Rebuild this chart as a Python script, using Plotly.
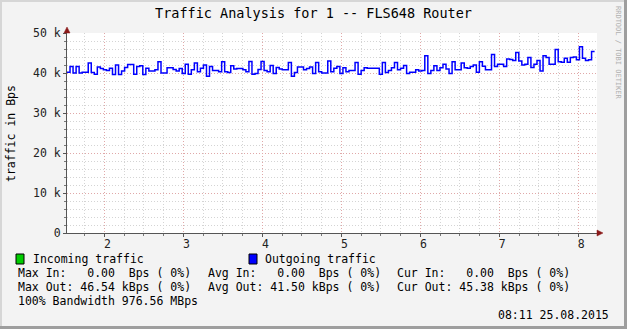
import plotly.graph_objects as go

# ---------------- data ----------------
outgoing_kbps = [
    40.2, 41.6, 40.0, 41.6, 40.0, 40.2, 40.2, 42.5, 40.1, 39.7, 41.5, 41.1, 40.8, 40.6, 41.2,
    39.6, 42.0, 39.6, 40.5, 41.4, 42.1, 42.1, 39.7, 41.6, 41.8, 39.6, 41.2, 40.5, 40.5, 40.8,
    42.8, 40.0, 40.0, 41.3, 41.3, 40.9, 40.5, 41.1, 39.9, 42.2, 39.7, 40.8, 42.5, 40.3, 41.2,
    42.0, 39.2, 41.6, 40.6, 40.6, 40.3, 42.8, 40.3, 40.1, 41.8, 41.0, 41.1, 41.1,
    40.8, 40.3, 42.9, 39.7, 39.9, 40.9, 42.9, 40.6, 40.3, 41.9, 39.9, 41.4, 41.0, 40.8, 40.8,
    42.6, 39.2, 40.1, 41.5, 41.5, 40.8, 41.1, 41.5, 39.9, 42.6, 40.3, 40.0, 40.0, 43.0, 40.3,
    41.2, 41.6, 39.9, 41.3, 40.3, 40.6, 40.6, 42.6, 39.7, 40.6, 41.3, 41.2, 41.2, 41.2, 41.2,
    39.7, 42.6, 40.1, 40.6, 41.3, 42.6, 40.8, 41.2, 41.9, 39.9, 40.2, 40.2, 40.8, 40.5,
    40.6, 44.3, 39.9, 40.6, 41.8, 40.6, 41.3, 42.2, 41.0, 39.9, 42.8, 40.8, 40.8, 42.5, 41.3,
    41.2, 41.6, 42.0, 40.2, 42.8, 41.7, 40.8, 40.8, 44.6, 41.6, 42.2, 42.2, 41.6, 43.5,
    43.4, 43.1, 45.1, 43.0, 42.0, 42.2, 43.9, 41.4, 42.2, 43.1, 40.5, 44.3, 43.9, 42.2, 42.2,
    45.9, 42.8, 42.7, 43.7, 42.7, 43.9, 44.0, 43.3, 46.54, 43.7, 43.1, 43.3, 45.38,
]
t_start = 1.525
t_step = 0.0384

x_tick_vals = [2, 3, 4, 5, 6, 7, 8]
x_tick_text = ["2", "3", "4", "5", "6", "7", "8"]
y_tick_vals = [0, 10000, 20000, 30000, 40000, 50000]
y_tick_text = ["0", "10 k", "20 k", "30 k", "40 k", "50 k"]

title_text = "Traffic Analysis for 1 -- FLS648 Router"
y_title = "traffic in Bps"
legend_labels = ["Incoming traffic", "Outgoing traffic"]
legend_colors = ["#00CC00", "#0000FF"]
stats_in = ["Max In:   0.00  Bps ( 0%)", "Avg In:   0.00  Bps ( 0%)", "Cur In:   0.00  Bps ( 0%)"]
stats_out = ["Max Out: 46.54 kBps ( 0%)", "Avg Out: 41.50 kBps ( 0%)", "Cur Out: 45.38 kBps ( 0%)"]
bandwidth_text = "100% Bandwidth 976.56 MBps"
date_text = "08:11 25.08.2015"
watermark = "RRDTOOL / TOBI OETIKER"

# ---------------- figure ----------------
FW, FH = 627, 329
L, R, T, B = 67, 30, 33, 96
W = FW - L - R
H = FH - T - B
MONO = "DejaVu Sans Mono"
FS = 11.5


def px(xp):
    return (xp - L) / W


def py(yp):
    return (FH - B - yp) / H


def nb(s):
    return s.replace(" ", "\u00a0")


n = len(outgoing_kbps)
xs = [t_start + i * t_step for i in range(n + 1)]
ys = [v * 1000 for v in outgoing_kbps] + [outgoing_kbps[-1] * 1000]

fig = go.Figure()
fig.add_trace(go.Scatter(x=xs, y=ys, mode="lines",
                         line=dict(color="#0000FF", width=1.5, shape="hv"),
                         showlegend=False, hoverinfo="skip"))

dots = "1px,2px"
fig.update_layout(
    width=FW, height=FH,
    margin=dict(l=L, r=R, t=T, b=B),
    paper_bgcolor="#F3F3F3",
    plot_bgcolor="#FFFFFF",
    font=dict(family=MONO, size=FS, color="#000000"),
    showlegend=False,
    xaxis=dict(
        range=[t_start, 8.237], tickvals=x_tick_vals, ticktext=x_tick_text,
        showgrid=True, gridcolor="#E0A8A8", griddash=dots, gridwidth=1,
        showline=True, linecolor="#555555", linewidth=1,
        ticks="outside", ticklen=3, tickcolor="#555555",
        zeroline=False, tickfont=dict(family=MONO, size=FS, color="#222222"),
        ticklabelshift=3, ticklabelstandoff=-3,
        minor=dict(dtick=0.25, showgrid=True, gridcolor="#D4D4D4", griddash=dots,
                   ticks="outside", ticklen=2, tickcolor="#777777"),
    ),
    yaxis=dict(
        range=[0, 50000], tickvals=y_tick_vals, ticktext=y_tick_text,
        showgrid=True, gridcolor="#E0A8A8", griddash=dots, gridwidth=1,
        showline=True, linecolor="#555555", linewidth=1,
        ticks="outside", ticklen=3, tickcolor="#555555",
        zeroline=False, tickfont=dict(family=MONO, size=FS, color="#222222"),
        minor=dict(dtick=2000, showgrid=True, gridcolor="#D4D4D4", griddash=dots,
                   ticks="outside", ticklen=2, tickcolor="#777777"),
    ),
)

shapes = []
# bevel border
shapes.append(dict(type="rect", xref="paper", yref="paper", x0=px(0), x1=px(FW), y0=py(0), y1=py(2),
                   fillcolor="#D6D6D6", line=dict(width=0), layer="below"))
shapes.append(dict(type="rect", xref="paper", yref="paper", x0=px(0), x1=px(2), y0=py(0), y1=py(FH),
                   fillcolor="#D6D6D6", line=dict(width=0), layer="below"))
shapes.append(dict(type="rect", xref="paper", yref="paper", x0=px(FW - 3), x1=px(FW), y0=py(0), y1=py(FH),
                   fillcolor="#9E9E9E", line=dict(width=0), layer="below"))
shapes.append(dict(type="rect", xref="paper", yref="paper", x0=px(0), x1=px(FW), y0=py(FH - 3), y1=py(FH),
                   fillcolor="#9E9E9E", line=dict(width=0), layer="below"))
# axis arrows
ax_x, ax_y = L, FH - B
shapes.append(dict(type="path", xref="paper", yref="paper",
                   path=f"M {px(ax_x - 3)},{py(T)} L {px(ax_x + 3)},{py(T)} L {px(ax_x)},{py(T - 6)} Z",
                   fillcolor="#8B1A1A", line=dict(color="#8B1A1A", width=0.5)))
shapes.append(dict(type="path", xref="paper", yref="paper",
                   path=f"M {px(L + W)},{py(ax_y - 3)} L {px(L + W)},{py(ax_y + 3)} L {px(L + W + 6)},{py(ax_y)} Z",
                   fillcolor="#8B1A1A", line=dict(color="#8B1A1A", width=0.5)))
# legend boxes
for cx, col in zip([16, 249], legend_colors):
    shapes.append(dict(type="rect", xref="paper", yref="paper",
                       x0=px(cx), x1=px(cx + 8), y0=py(264), y1=py(254),
                       fillcolor=col, line=dict(color="#000000", width=1)))
fig.update_layout(shapes=shapes)


def text_ann(text, xp, yp, anchor="left", size=FS, color="#000000", angle=0):
    return dict(text=nb(text), x=px(xp), y=py(yp), xref="paper", yref="paper",
                xanchor=anchor, yanchor="middle", showarrow=False, textangle=angle,
                font=dict(family=MONO, size=size, color=color))


ann = [text_ann(title_text, 313, 13, "center", 13.5),
       text_ann(y_title, 11, 134, "center", FS, angle=-90)]
for lx, lab in zip([31, 263], legend_labels):
    ann.append(text_ann(lab, lx, 259))
for cx, s_in, s_out in zip([16, 205.5, 395], stats_in, stats_out):
    ann.append(text_ann(s_in, cx, 273))
    ann.append(text_ann(s_out, cx, 287))
ann.append(text_ann(bandwidth_text, 16, 301))
ann.append(text_ann(date_text, 611, 315, "right"))
ann.append(text_ann(watermark, 618, 53, "center", 7, "#B0B0B0", 90))
fig.update_layout(annotations=ann)

fig.write_html("out.html")
